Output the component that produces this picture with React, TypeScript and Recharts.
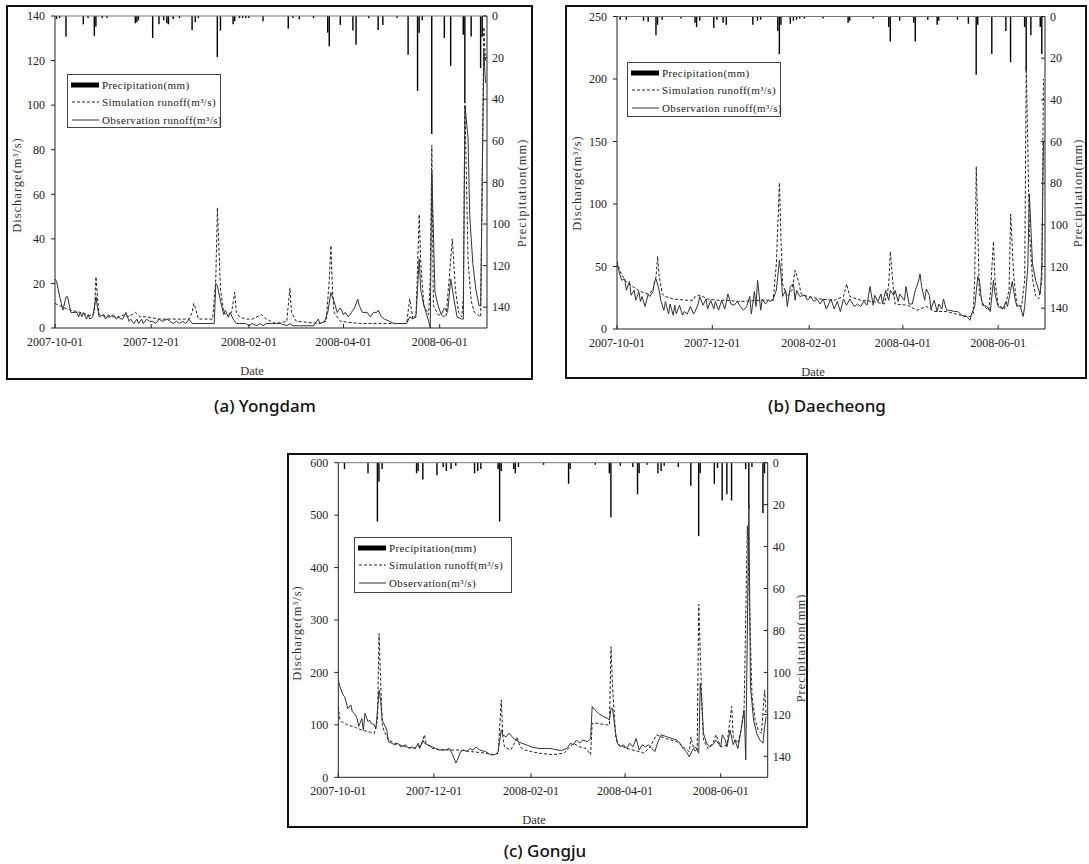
import React from 'react';
import { ComposedChart, Bar, Line, XAxis, YAxis, ReferenceLine } from 'recharts';

type Pt = [number, number];

// day index counted from START, value
const START = '2007-10-01';
const dateTicks = ['2007-10-01', '2007-12-01', '2008-02-01', '2008-04-01', '2008-06-01'];
const rainTicks = [0, 20, 40, 60, 80, 100, 120, 140];
const yongdamTicks = [0, 20, 40, 60, 80, 100, 120, 140];
const daecheongTicks = [0, 50, 100, 150, 200, 250];
const gongjuTicks = [0, 100, 200, 300, 400, 500, 600];

const yongdamObs: Pt[] = [
  [0, 22], [1, 21], [3, 14], [4, 11], [5, 8], [7, 14], [8, 14], [10, 7], [14, 7], [15, 5], [16, 7], [17, 5],
  [18, 7], [20, 4], [21, 6], [22, 4], [24, 5], [26, 14], [27, 9], [28, 5], [31, 6], [32, 4], [34, 6], [35, 5],
  [37, 6], [39, 4], [40, 5], [42, 4], [43, 4], [45, 7], [47, 3], [48, 4], [50, 2], [52, 4], [53, 2], [55, 4],
  [56, 2], [58, 4], [60, 3], [62, 3], [64, 2], [66, 4], [68, 3], [71, 4], [73, 3], [75, 2], [77, 3], [79, 2],
  [81, 3], [83, 2], [85, 4], [87, 2], [90, 2], [101, 2], [102, 20], [103, 19], [105, 12], [106, 9], [107, 6],
  [108, 8], [110, 5], [111, 7], [113, 4], [115, 2], [117, 2], [121, 2], [123, 1], [125, 2], [128, 1], [130, 2],
  [132, 1], [134, 2], [138, 2], [143, 2], [147, 1], [149, 2], [151, 1], [155, 1], [164, 1], [167, 4], [168, 2],
  [171, 3], [173, 7], [175, 16], [177, 12], [179, 7], [181, 9], [183, 6], [184, 7], [186, 5], [188, 7], [190, 9],
  [192, 13], [193, 10], [195, 7], [198, 7], [200, 5], [202, 7], [204, 7], [205, 8], [207, 5], [209, 4], [212, 3],
  [215, 2], [219, 2], [223, 2], [225, 5], [227, 4], [229, 6], [231, 31], [232, 17], [234, 10], [237, 3], [238, 0],
  [239, 70], [241, 16], [243, 10], [245, 6], [247, 9], [249, 7], [251, 22], [253, 13], [255, 5], [258, 4],
  [259, 4], [260, 100], [262, 85], [263, 51], [265, 29], [267, 17], [269, 10], [270, 10], [272, 125], [273, 110],
];
const yongdamSim: Pt[] = [
  [0, 11], [3, 10], [6, 9], [10, 8], [16, 7], [20, 6], [23, 5.5], [25, 7], [26, 23], [27, 13], [28, 6], [33, 5],
  [41, 5], [44, 6], [46, 5], [49, 6], [51, 7], [54, 5], [58, 5], [66, 4], [79, 4], [85, 4], [87, 7], [88, 11],
  [89, 9], [91, 4], [100, 4], [102, 22], [103, 54], [104, 35], [105, 17], [107, 7], [110, 5], [112, 7], [114, 16],
  [115, 7], [117, 5], [121, 4], [125, 4], [131, 6], [134, 4], [140, 2], [147, 3], [149, 18], [150, 7], [153, 3],
  [168, 2], [172, 3], [174, 22], [175, 37], [176, 17], [177, 7], [181, 3], [193, 2], [214, 2], [223, 2], [225, 13],
  [227, 4], [229, 5], [231, 51], [232, 29], [234, 10], [237, 6], [238, 22], [239, 82], [240, 10], [243, 6],
  [248, 5], [250, 22], [252, 40], [254, 17], [256, 7], [258, 5], [259, 14], [260, 100], [262, 30], [264, 12],
  [266, 7], [268, 6], [270, 5], [272, 135], [273, 120],
];
const yongdamRain: Pt[] = [
  [1, 1.5], [3, 1], [7, 10], [18, 4], [21, 1], [25, 9.5], [26, 5], [30, 1], [33, 1], [51, 3.5], [52, 3], [53, 2],
  [62, 10.6], [66, 4], [69, 2], [71, 3.5], [72, 4], [75, 1.5], [79, 1], [87, 6.7], [89, 3], [91, 1], [103, 19.7],
  [105, 7], [113, 4], [114, 2.5], [117, 1], [119, 1], [121, 1], [123, 1], [132, 2.5], [148, 6], [151, 1],
  [155, 1.5], [164, 1], [173, 8], [174, 14.6], [181, 4.3], [189, 7], [191, 13.8], [199, 1], [205, 6.7], [208, 4.3],
  [217, 1], [224, 18.6], [230, 36], [231, 8], [233, 2], [239, 56.7], [247, 10.6], [251, 24], [259, 9], [260, 42],
  [264, 9.8], [270, 25], [271, 10],
];

const daecheongObs: Pt[] = [
  [0, 52], [1, 48], [2, 43], [3, 39], [5, 40], [6, 31], [8, 38], [9, 27], [11, 31], [12, 23], [14, 30], [15, 22],
  [16, 26], [18, 18], [20, 28], [21, 26], [23, 30], [24, 38], [25, 40], [27, 31], [28, 23], [30, 15], [31, 22],
  [33, 12], [34, 20], [36, 11], [37, 19], [38, 12], [40, 19], [42, 11], [43, 14], [45, 12], [47, 18], [49, 12],
  [50, 14], [52, 20], [53, 26], [55, 19], [57, 24], [58, 16], [60, 23], [62, 16], [63, 22], [65, 15], [67, 23],
  [69, 16], [71, 28], [73, 20], [75, 19], [77, 22], [79, 18], [81, 15], [83, 18], [85, 26], [86, 12], [88, 30],
  [89, 18], [90, 39], [92, 15], [93, 24], [95, 20], [97, 23], [98, 22], [100, 24], [102, 31], [104, 55], [105, 44],
  [106, 26], [108, 31], [109, 18], [111, 34], [113, 36], [114, 23], [115, 31], [117, 26], [120, 27], [122, 23],
  [124, 26], [126, 22], [128, 24], [130, 20], [132, 24], [134, 16], [137, 24], [139, 16], [141, 22], [143, 14],
  [145, 24], [147, 19], [149, 24], [152, 18], [154, 20], [156, 18], [158, 22], [160, 19], [162, 34], [164, 19],
  [165, 27], [167, 22], [169, 28], [170, 20], [172, 31], [174, 23], [175, 31], [177, 27], [178, 31], [180, 22],
  [181, 28], [184, 23], [185, 34], [187, 20], [189, 20], [191, 31], [193, 38], [194, 44], [195, 34], [197, 23],
  [198, 32], [200, 27], [201, 16], [203, 23], [205, 14], [206, 20], [208, 16], [209, 24], [211, 15], [213, 15],
  [216, 14], [218, 14], [220, 12], [222, 10], [224, 10], [226, 7], [227, 12], [229, 18], [231, 42], [232, 39],
  [233, 27], [234, 19], [237, 18], [239, 14], [241, 39], [242, 28], [244, 18], [247, 16], [249, 22], [250, 18],
  [252, 31], [253, 38], [255, 23], [256, 18], [258, 19], [260, 10], [261, 18], [263, 50], [264, 108], [266, 52],
  [268, 39], [270, 31], [271, 28], [272, 52], [273, 150],
];
const daecheongSim: Pt[] = [
  [0, 54], [2, 46], [5, 39], [10, 34], [15, 30], [20, 28], [23, 31], [25, 42], [26, 58], [27, 42], [29, 28],
  [31, 26], [36, 24], [45, 23], [49, 23], [50, 26], [53, 27], [58, 24], [64, 23], [70, 23], [79, 22], [92, 23],
  [100, 23], [102, 52], [104, 117], [105, 71], [106, 36], [109, 26], [112, 31], [114, 47], [116, 39], [118, 28],
  [122, 26], [130, 24], [139, 23], [145, 26], [147, 36], [149, 26], [156, 23], [164, 22], [171, 20], [173, 28],
  [174, 36], [175, 62], [177, 31], [178, 20], [186, 19], [192, 15], [198, 18], [203, 14], [211, 14], [220, 11],
  [226, 10], [228, 12], [229, 39], [230, 130], [232, 28], [235, 18], [238, 15], [239, 28], [241, 70], [242, 39],
  [244, 19], [248, 16], [251, 31], [252, 92], [254, 42], [256, 19], [259, 18], [261, 39], [262, 210], [264, 79],
  [266, 40], [268, 27], [270, 24], [272, 39], [273, 200],
];
const daecheongRain: Pt[] = [
  [2, 1.6], [6, 1.5], [17, 2], [20, 2.5], [25, 9], [26, 4], [29, 1.5], [41, 1], [50, 3], [51, 5], [53, 2],
  [62, 5.5], [64, 1.5], [68, 3], [70, 4], [87, 4], [90, 2], [92, 1.5], [103, 7], [104, 18], [105, 4], [111, 3.5],
  [113, 2], [115, 1.5], [117, 1], [120, 1], [132, 1], [148, 3], [149, 2], [164, 1], [174, 5], [175, 12], [181, 2],
  [190, 3], [191, 12], [199, 1.5], [205, 4], [206, 2], [218, 1.5], [225, 3.5], [230, 28], [231, 4], [240, 18],
  [249, 7], [252, 22], [261, 5], [262, 26], [265, 9], [271, 5], [272, 18],
];

const gongjuObs: Pt[] = [
  [0, 185], [1, 173], [3, 157], [4, 154], [5, 144], [6, 131], [8, 138], [9, 125], [11, 119], [12, 112], [13, 97],
  [15, 112], [16, 90], [17, 122], [19, 106], [20, 109], [21, 103], [23, 100], [24, 93], [25, 128], [26, 166],
  [27, 147], [28, 109], [29, 103], [31, 90], [32, 68], [34, 65], [36, 62], [38, 65], [40, 58], [43, 62], [45, 55],
  [47, 58], [49, 55], [51, 65], [52, 55], [54, 71], [55, 65], [57, 62], [60, 58], [62, 55], [64, 52], [68, 52],
  [71, 55], [73, 43], [75, 27], [76, 33], [78, 49], [80, 52], [82, 49], [84, 55], [86, 52], [88, 58], [90, 52],
  [94, 49], [97, 43], [100, 43], [102, 49], [104, 90], [105, 81], [107, 77], [109, 84], [111, 77], [113, 71],
  [115, 68], [117, 65], [120, 62], [123, 58], [128, 55], [132, 55], [135, 55], [142, 51], [146, 55], [148, 65],
  [150, 62], [152, 71], [154, 65], [156, 71], [159, 68], [161, 74], [162, 135], [164, 128], [166, 122], [169, 116],
  [172, 112], [173, 109], [174, 131], [175, 131], [177, 84], [178, 65], [180, 58], [182, 62], [184, 55], [186, 65],
  [188, 58], [190, 74], [192, 52], [194, 62], [196, 58], [198, 62], [200, 55], [202, 49], [204, 68], [206, 81],
  [210, 77], [213, 74], [216, 71], [218, 65], [220, 55], [222, 49], [224, 39], [226, 52], [228, 58], [230, 46],
  [231, 179], [232, 141], [233, 84], [235, 65], [237, 58], [239, 62], [241, 71], [244, 58], [245, 81], [247, 71],
  [248, 58], [250, 90], [252, 62], [253, 71], [255, 55], [257, 90], [259, 128], [260, 33], [262, 520], [263, 173],
  [265, 109], [267, 84], [269, 71], [271, 65], [272, 97], [273, 116],
];
const gongjuSim: Pt[] = [
  [0, 135], [1, 110], [2, 106], [6, 100], [11, 95], [15, 90], [19, 87], [23, 84], [25, 109], [26, 274], [27, 185],
  [28, 103], [29, 90], [32, 71], [36, 65], [43, 58], [49, 55], [53, 62], [55, 81], [56, 65], [60, 55], [68, 52],
  [77, 52], [85, 49], [94, 46], [100, 43], [102, 46], [104, 147], [105, 77], [106, 58], [110, 52], [113, 68],
  [114, 77], [116, 58], [119, 52], [123, 49], [128, 46], [137, 43], [144, 46], [147, 55], [150, 65], [154, 58],
  [158, 55], [161, 43], [162, 103], [165, 103], [171, 100], [173, 100], [174, 249], [175, 173], [177, 77],
  [179, 62], [184, 55], [188, 52], [192, 49], [195, 46], [199, 58], [203, 81], [209, 74], [216, 68], [220, 58],
  [224, 49], [225, 77], [227, 52], [229, 49], [230, 330], [232, 141], [233, 71], [236, 55], [239, 65], [241, 81],
  [244, 58], [248, 62], [251, 135], [252, 77], [255, 65], [257, 90], [259, 135], [261, 480], [264, 154],
  [266, 109], [268, 90], [270, 84], [272, 166], [273, 122],
];
const gongjuRain: Pt[] = [
  [4, 3], [19, 5], [25, 28], [26, 9], [28, 3], [50, 5], [51, 4], [54, 8], [63, 6], [67, 2], [69, 4], [72, 3],
  [75, 1.5], [87, 5], [89, 4], [91, 3], [102, 3], [103, 28], [104, 4], [112, 3], [113, 5], [115, 2], [131, 1],
  [147, 10], [148, 3], [164, 1], [173, 5], [174, 26], [180, 1.5], [188, 2], [191, 15], [192, 5], [197, 1],
  [204, 5], [206, 4], [208, 1.5], [217, 2], [225, 11], [230, 35], [231, 5], [240, 10], [242, 2.5], [245, 18],
  [248, 15], [251, 18], [260, 3], [262, 22], [264, 2], [271, 24], [272, 5],
];

const legendRain = 'Precipitation(mm)';
const legendSim = 'Simulation runoff(m³/s)';
const legendObsRunoff = 'Observation runoff(m³/s)';
const legendObs = 'Observation(m³/s)';

const serif = "'Liberation Serif', 'DejaVu Serif', serif";
const sans = "'Noto Sans', 'DejaVu Sans', sans-serif";

const dayIndex = (s: string) => Math.round((Date.parse(s + 'T00:00:00Z') - Date.parse(START + 'T00:00:00Z')) / 86400000);
const tickDays = dateTicks.map(dayIndex);
const tickLabel = (d: number) => dateTicks[tickDays.indexOf(d)] ?? '';

function buildRows(obs: Pt[], sim: Pt[], rain: Pt[]) {
  const m = new Map<number, any>();
  const put = (arr: Pt[], key: string) =>
    arr.forEach(([d, v]) => {
      const r = m.get(d) ?? { day: d, rain: 0 };
      r[key] = v;
      m.set(d, r);
    });
  put(obs, 'obs');
  put(sim, 'sim');
  put(rain, 'rain');
  return [...m.values()].sort((a, b) => a.day - b.day);
}

const Swatch = ({ kind }: { kind: 'bar' | 'dash' | 'line' }) => (
  <svg width={30} height={8} style={{ marginRight: 2, flex: 'none' }}>
    {kind === 'bar' && <rect x={1} y={1.5} width={28} height={5} fill="#000" />}
    {kind === 'dash' && <line x1={2} y1={4} x2={29} y2={4} stroke="#222" strokeDasharray="3 2" />}
    {kind === 'line' && <line x1={2} y1={4} x2={29} y2={4} stroke="#333" />}
  </svg>
);

interface PanelProps {
  box: { x: number; y: number; w: number; h: number };
  margin: { top: number; right: number; bottom: number; left: number };
  leftW: number;
  rightW: number;
  yMax: number;
  yTicks: number[];
  obs: Pt[];
  sim: Pt[];
  rain: Pt[];
  obsLabel: string;
  legend: { x: number; y: number; w: number; h: number };
  discharge: { x: number; y: number };
  precip: { x: number; y: number };
  date: { x: number; y: number };
  caption: { x: number; y: number; text: string };
}

function Panel(p: PanelProps) {
  const rows = buildRows(p.obs, p.sim, p.rain);
  const tick = { fontFamily: serif, fontSize: 12, fill: '#222' };
  const rot = (x: number, y: number): React.CSSProperties => ({
    position: 'absolute', left: x, top: y, transform: 'translate(-50%, -50%) rotate(-90deg)',
    whiteSpace: 'nowrap', fontFamily: serif, fontSize: 12.5, letterSpacing: 1, color: '#333',
  });
  return (
    <>
      <div style={{ position: 'absolute', left: p.box.x, top: p.box.y }}>
        <ComposedChart width={p.box.w} height={p.box.h} data={rows} margin={p.margin}>
          <XAxis dataKey="day" type="number" domain={[0, 274]} ticks={tickDays} interval={0}
            tickFormatter={tickLabel} tick={tick} tickSize={-4} tickMargin={13} height={30}
            axisLine={{ stroke: '#222' }} tickLine={{ stroke: '#222' }} allowDataOverflow />
          <YAxis yAxisId="left" domain={[0, p.yMax]} ticks={p.yTicks} interval={0} width={p.leftW}
            tick={tick} tickSize={4} tickMargin={6} axisLine={{ stroke: '#222' }} tickLine={{ stroke: '#222' }}
            allowDataOverflow />
          <YAxis yAxisId="right" orientation="right" reversed domain={[0, 150]} ticks={rainTicks} interval={0}
            width={p.rightW} tick={tick} tickSize={-4} tickMargin={9} axisLine={{ stroke: '#222' }}
            tickLine={{ stroke: '#222' }} allowDataOverflow />
          <ReferenceLine yAxisId="right" y={0} stroke="#777" />
          <Bar yAxisId="right" dataKey="rain" fill="#000" barSize={2} isAnimationActive={false} />
          <Line yAxisId="left" dataKey="sim" stroke="#222" strokeWidth={1} strokeDasharray="3 2" dot={false}
            connectNulls isAnimationActive={false} />
          <Line yAxisId="left" dataKey="obs" stroke="#333" strokeWidth={1} dot={false} connectNulls
            isAnimationActive={false} />
        </ComposedChart>
      </div>
      <div style={{ position: 'absolute', left: p.box.x, top: p.box.y, width: p.box.w, height: p.box.h,
        border: '2px solid #111', boxSizing: 'border-box', pointerEvents: 'none' }} />
      <div style={{ position: 'absolute', left: p.legend.x, top: p.legend.y, width: p.legend.w, height: p.legend.h,
        border: '1.5px solid #444', boxSizing: 'border-box', background: '#fff', fontFamily: serif, fontSize: 11,
        letterSpacing: 0.4, color: '#222', padding: '1px 0 0 2px' }}>
        {([['bar', legendRain], ['dash', legendSim], ['line', p.obsLabel]] as const).map(([k, t]) => (
          <div key={t} style={{ display: 'flex', alignItems: 'center', height: 17.5, whiteSpace: 'nowrap' }}>
            <Swatch kind={k} />
            <span>{t}</span>
          </div>
        ))}
      </div>
      <div style={rot(p.discharge.x, p.discharge.y)}>Discharge(m³/s)</div>
      <div style={rot(p.precip.x, p.precip.y)}>Precipitation(mm)</div>
      <div style={{ position: 'absolute', left: p.date.x, top: p.date.y, transform: 'translate(-50%, -50%)',
        fontFamily: serif, fontSize: 12.5, color: '#333' }}>Date</div>
      <div style={{ position: 'absolute', left: p.caption.x, top: p.caption.y, transform: 'translate(-50%, -50%)',
        fontFamily: sans, fontSize: 17, fontWeight: 500, color: '#111', whiteSpace: 'nowrap' }}>{p.caption.text}</div>
    </>
  );
}

export default function App() {
  return (
    <div style={{ position: 'absolute', left: 0, top: 0, width: 1089, height: 864, background: '#fff', overflow: 'hidden' }}>
      <style>{`html, body { margin: 0; overflow: hidden; }
        .recharts-cartesian-axis-tick-value { font-family: 'Liberation Serif', 'DejaVu Serif', serif; }`}</style>
      <Panel box={{ x: 6, y: 5, w: 527, h: 375 }} margin={{ top: 11, right: 16, bottom: 22, left: 0 }}
        leftW={49} rightW={30} yMax={140} yTicks={yongdamTicks} obs={yongdamObs} sim={yongdamSim}
        rain={yongdamRain} obsLabel={legendObsRunoff} legend={{ x: 67, y: 74, w: 154, h: 54 }}
        discharge={{ x: 17, y: 185 }} precip={{ x: 522, y: 193 }} date={{ x: 252, y: 371 }}
        caption={{ x: 265, y: 405, text: '(a) Yongdam' }} />
      <Panel box={{ x: 565, y: 5, w: 522, h: 374 }} margin={{ top: 11.5, right: 6, bottom: 20, left: 0 }}
        leftW={52} rightW={36} yMax={250} yTicks={daecheongTicks} obs={daecheongObs} sim={daecheongSim}
        rain={daecheongRain} obsLabel={legendObsRunoff} legend={{ x: 627, y: 62, w: 154, h: 55 }}
        discharge={{ x: 577, y: 183 }} precip={{ x: 1078, y: 193 }} date={{ x: 813, y: 372 }}
        caption={{ x: 827, y: 405, text: '(b) Daecheong' }} />
      <Panel box={{ x: 287, y: 453, w: 521, h: 375 }} margin={{ top: 9.7, right: 10.3, bottom: 20.7, left: 0 }}
        leftW={51.3} rightW={30} yMax={600} yTicks={gongjuTicks} obs={gongjuObs} sim={gongjuSim}
        rain={gongjuRain} obsLabel={legendObs} legend={{ x: 354, y: 537, w: 158, h: 56 }}
        discharge={{ x: 297, y: 633 }} precip={{ x: 801, y: 648 }} date={{ x: 534, y: 820 }}
        caption={{ x: 545, y: 850, text: '(c) Gongju' }} />
    </div>
  );
}
